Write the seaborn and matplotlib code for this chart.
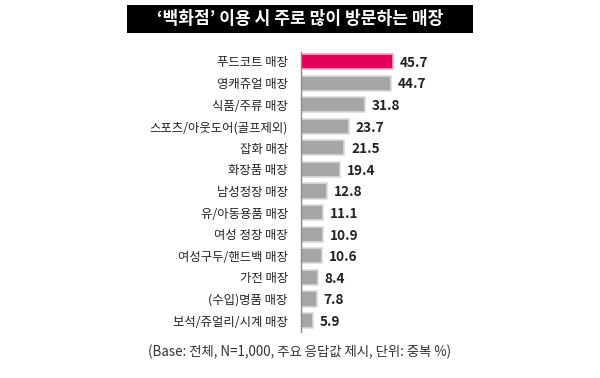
import matplotlib.pyplot as plt
from matplotlib.patches import Rectangle
import seaborn as sns
import pandas as pd

sns.set_style('white')
plt.rcParams['font.family'] = ['Noto Sans CJK KR', 'DejaVu Sans']

stores = ['푸드코트 매장', '영캐쥬얼 매장', '식품/주류 매장', '스포츠/아웃도어(골프제외)',
          '잡화 매장', '화장품 매장', '남성정장 매장', '유/아동용품 매장', '여성 정장 매장',
          '여성구두/핸드백 매장', '가전 매장', '(수입)명품 매장', '보석/쥬얼리/시계 매장']
share = [45.7, 44.7, 31.8, 23.7, 21.5, 19.4, 12.8, 11.1, 10.9, 10.6, 8.4, 7.8, 5.9]
title = '‘백화점’ 이용 시 주로 많이 방문하는 매장'
note = '(Base: 전체, N=1,000, 주요 응답값 제시, 단위: 중복 %)'

df = pd.DataFrame({'store': stores, 'share': share})
colors = ['#e4005a'] + ['#a6a6a6'] * (len(stores) - 1)
edges = ['#f4a6c0'] + ['#dadada'] * (len(stores) - 1)

fig = plt.figure(figsize=(6, 3.78), dpi=100)
ax = fig.add_axes([301 / 600, 1 - 332 / 378, 150 / 600, 280 / 378])

sns.barplot(data=df, x='share', y='store', hue='store', palette=colors,
            legend=False, width=0.7, saturation=1, ax=ax)
for bar, ec in zip(ax.patches, edges):
    bar.set_edgecolor(ec)
    bar.set_linewidth(1.2)

for i, v in enumerate(share):
    ax.annotate(f'{v}', (v, i), xytext=(5, -1), textcoords='offset points',
                ha='left', va='center', fontsize=9.8, fontweight='bold', color='#222222')

ax.set_xlim(0, 150 / 2.01)
ax.set_ylim(12.53, -0.44)
ax.set_xlabel('')
ax.set_ylabel('')
ax.set_xticks([])
for s in ['top', 'right', 'bottom']:
    ax.spines[s].set_visible(False)
ax.spines['left'].set_color('#8c8c8c')
ax.spines['left'].set_linewidth(1)
ax.tick_params(axis='y', length=0, pad=9.5, labelsize=8.9, labelcolor='#222222')

fig.patches.append(Rectangle((127 / 600, 1 - 33 / 378), 346 / 600, 28 / 378,
                             transform=fig.transFigure, facecolor='black',
                             edgecolor='none', zorder=0))
fig.text(300 / 600, 1 - 19 / 378, title, color='white', fontsize=12.3,
         fontweight='bold', ha='center', va='center')
fig.text(300 / 600, 1 - 352 / 378, note, color='#333333', fontsize=9.6,
         ha='center', va='center')

fig.savefig('out.png', dpi=100, facecolor='white')
